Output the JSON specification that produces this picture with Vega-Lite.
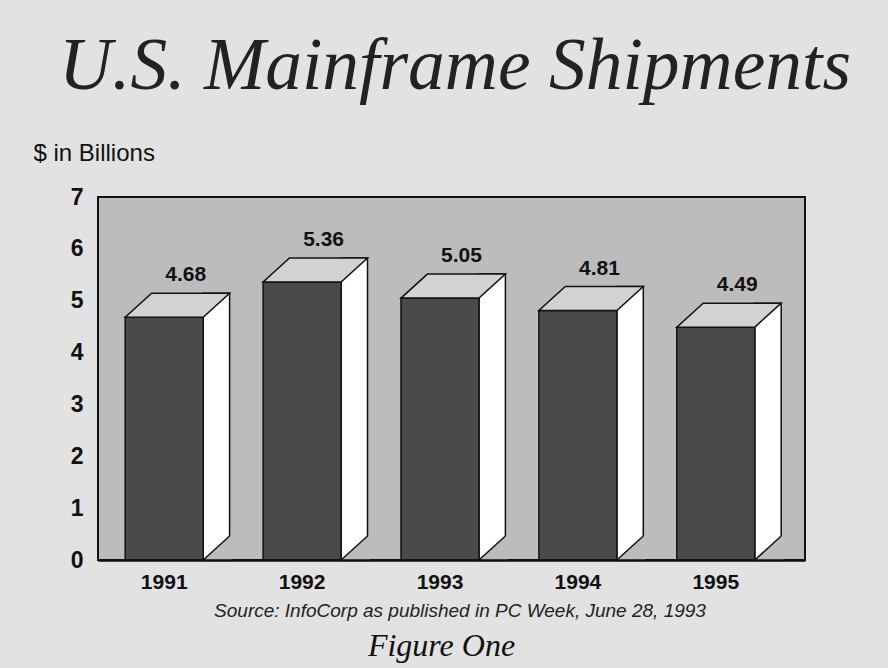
{
  "$schema": "https://vega.github.io/schema/vega-lite/v6.json",
  "autosize": {"type": "none"},
  "width": 707,
  "height": 363,
  "padding": {"left": 98, "top": 197, "right": 83, "bottom": 108},
  "background": "#e2e2e2",
  "title": {
    "text": "U.S. Mainframe Shipments",
    "font": "Liberation Serif",
    "fontStyle": "italic",
    "fontWeight": "normal",
    "fontSize": 73.5,
    "color": "#222222",
    "anchor": "middle",
    "baseline": "alphabetic",
    "offset": 0,
    "dy": 21,
    "dx": 3.5
  },
  "config": {
    "view": {"fill": "#bcbcbc", "stroke": "#111111", "strokeWidth": 2},
    "font": "Liberation Sans"
  },
  "data": {
    "values": [
      {"year": "1991", "value": 4.68},
      {"year": "1992", "value": 5.36},
      {"year": "1993", "value": 5.05},
      {"year": "1994", "value": 4.81},
      {"year": "1995", "value": 4.49}
    ]
  },
  "encoding": {
    "x": {
      "field": "year",
      "type": "ordinal",
      "scale": {"paddingInner": 0.4344, "paddingOuter": 0.2807},
      "axis": {
        "title": "Source: InfoCorp as published in PC Week, June 28, 1993",
        "labelAngle": 0,
        "labelFont": "Liberation Sans",
        "labelFontWeight": "bold",
        "labelFontSize": 21,
        "labelColor": "#111111",
        "labelOffset": -11.5,
        "labelPadding": 28,
        "labelBaseline": "alphabetic",
        "ticks": false,
        "tickSize": 0,
        "domain": true,
        "domainColor": "#111111",
        "domainWidth": 2.5,
        "zindex": 1,
        "grid": false,
        "titleFont": "Liberation Sans",
        "titleFontStyle": "italic",
        "titleFontWeight": "normal",
        "titleFontSize": 19,
        "titleColor": "#222222",
        "titleX": 361.5,
        "titleY": 56,
        "titleAlign": "center",
        "titleBaseline": "alphabetic"
      }
    }
  },
  "layer": [
    {
      "mark": {"type": "bar", "fill": "#ffffff", "stroke": "#111111", "strokeWidth": 1.5, "width": 26.4, "xOffset": 40.7, "yOffset": -24, "y2Offset": 0},
      "encoding": {
        "y": {
          "field": "value",
          "type": "quantitative",
          "scale": {"domain": [0, 7], "nice": false},
          "axis": {
            "title": "$ in Billions",
            "orient": "left",
            "values": [0, 1, 2, 3, 4, 5, 6, 7],
            "labelFont": "Liberation Sans",
            "labelFontWeight": "bold",
            "labelFontSize": 23,
            "labelColor": "#111111",
            "labelPadding": 15,
            "ticks": false,
            "tickSize": 0,
            "domain": false,
            "grid": false,
            "titleAngle": 0,
            "titleX": -65,
            "titleY": -37,
            "titleAlign": "left",
            "titleBaseline": "alphabetic",
            "titleFont": "Liberation Sans",
            "titleFontSize": 24,
            "titleFontWeight": "normal",
            "titleColor": "#111111"
          }
        },
        "y2": {"datum": 0}
      }
    },
    {
      "mark": {"type": "point", "shape": "M 27.5 0 L 53.9 -24 L 56 -24 L 56 2 L 27.5 2 Z", "size": 4, "filled": true, "fill": "#bcbcbc", "strokeWidth": 0, "opacity": 1},
      "encoding": {
        "y": {"datum": 0, "scale": {"domain": [0, 7], "nice": false}, "axis": null}
      }
    },
    {
      "mark": {"type": "point", "shape": "M 27.5 0 L 53.9 -24", "size": 4, "filled": false, "stroke": "#111111", "strokeWidth": 1.5, "opacity": 1},
      "encoding": {
        "y": {"datum": 0, "scale": {"domain": [0, 7], "nice": false}, "axis": null}
      }
    },
    {
      "mark": {"type": "bar", "fill": "#4a4a4a", "stroke": "#111111", "strokeWidth": 1.5, "xOffset": -11.5},
      "encoding": {
        "y": {"field": "value", "type": "quantitative", "scale": {"domain": [0, 7], "nice": false}, "axis": null},
        "y2": {"datum": 0}
      }
    },
    {
      "mark": {"type": "point", "shape": "M -50.5 0 L 27.5 0 L 53.9 -24 L -24.1 -24 Z", "size": 4, "filled": true, "fill": "#d2d2d2", "stroke": "#111111", "strokeWidth": 1.5, "opacity": 1},
      "encoding": {
        "y": {"field": "value", "type": "quantitative", "scale": {"domain": [0, 7], "nice": false}, "axis": null}
      }
    },
    {
      "mark": {"type": "text", "dx": 10, "dy": -36, "baseline": "alphabetic", "align": "center", "font": "Liberation Sans", "fontWeight": "bold", "fontSize": 21, "color": "#111111"},
      "encoding": {
        "y": {
          "field": "value",
          "type": "quantitative",
          "scale": {"domain": [0, 7], "nice": false},
          "axis": {
            "orient": "right",
            "labels": false,
            "ticks": false,
            "domain": false,
            "grid": false,
            "title": "Figure One",
            "titleAngle": 0,
            "titleX": -364,
            "titleY": 458,
            "titleAlign": "center",
            "titleBaseline": "alphabetic",
            "titleFont": "Liberation Serif",
            "titleFontStyle": "italic",
            "titleFontSize": 32,
            "titleFontWeight": "normal",
            "titleColor": "#111111"
          }
        },
        "text": {"field": "value", "type": "quantitative", "format": ".2f"}
      }
    }
  ],
  "resolve": {"scale": {"y": "independent"}, "axis": {"y": "independent"}}
}
